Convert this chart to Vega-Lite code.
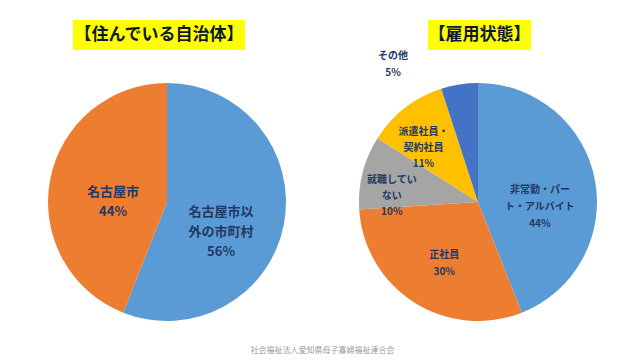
{
  "$schema": "https://vega.github.io/schema/vega-lite/v6.json",
  "background": "white",
  "padding": {"left": 48, "top": 20, "right": 0, "bottom": 0},
  "config": {
    "view": {"stroke": null},
    "font": "Noto Sans CJK JP",
    "text": {"font": "Noto Sans CJK JP"}
  },
  "title": {
    "text": "社会福祉法人愛知県母子寡婦福祉連合会",
    "orient": "bottom",
    "anchor": "middle",
    "fontSize": 8,
    "fontWeight": "normal",
    "color": "#9a9a9a",
    "font": "Noto Sans CJK JP",
    "offset": -7
  },
  "vconcat": [
    {
      "hconcat": [
        {
          "width": 25,
          "height": 30,
          "data": {"values": [{"t": ""}]},
          "mark": {"type": "text"},
          "encoding": {"text": {"field": "t", "type": "nominal"}}
        },
        {
          "hconcat": [
            {
              "width": 172,
              "height": 30,
              "view": {"fill": "#FFFF00", "stroke": null},
              "data": {"values": [{"title": "【住んでいる自治体】"}]},
              "mark": {"type": "text", "fontSize": 17, "fontWeight": "bold", "color": "#0f1a2e", "baseline": "middle", "align": "center"},
              "encoding": {"text": {"field": "title", "type": "nominal"}}
            },
            {
              "width": 103,
              "height": 30,
              "view": {"fill": "#FFFF00", "stroke": null},
              "data": {"values": [{"title": "【雇用状態】"}]},
              "mark": {"type": "text", "fontSize": 17, "fontWeight": "bold", "color": "#0f1a2e", "baseline": "middle", "align": "center"},
              "encoding": {"text": {"field": "title", "type": "nominal"}}
            }
          ],
          "spacing": 183
        }
      ],
      "spacing": 0
    },
    {
      "resolve": {"scale": {"color": "independent", "theta": "independent"}},
      "bounds": "flush",
      "hconcat": [
        {
          "width": 238,
          "height": 304,
          "data": {"values": [
            {"area": "名古屋市以外の市町村", "pct": 56, "seq": 1, "label": "名古屋市以\n外の市町村\n56%"},
            {"area": "名古屋市", "pct": 44, "seq": 2, "label": "名古屋市\n44%"}
          ]},
          "encoding": {
            "theta": {"field": "pct", "type": "quantitative", "stack": true},
            "order": {"field": "seq", "type": "quantitative"}
          },
          "layer": [
            {
              "mark": {"type": "arc", "radius": 119},
              "encoding": {
                "color": {
                  "field": "area",
                  "type": "nominal",
                  "scale": {"domain": ["名古屋市以外の市町村", "名古屋市"], "range": ["#5B9BD5", "#ED7D31"]},
                  "legend": null
                }
              }
            },
            {
              "mark": {"type": "text", "radius": 55, "fontSize": 13, "fontWeight": "bold", "color": "#1F3864", "lineBreak": "\n", "lineHeight": 20, "align": "center", "baseline": "middle"},
              "encoding": {"text": {"field": "label", "type": "nominal"}}
            }
          ]
        },
        {
          "width": 238,
          "height": 304,
          "data": {"values": [
            {"status": "非常勤・パート・アルバイト", "pct": 44, "seq": 1, "grp": "a", "label": "非常勤・パー\nト・アルバイト\n44%"},
            {"status": "正社員", "pct": 30, "seq": 2, "grp": "a", "label": "正社員\n30%"},
            {"status": "就職していない", "pct": 10, "seq": 3, "grp": "b", "label": "就職してい\nない\n10%"},
            {"status": "派遣社員・契約社員", "pct": 11, "seq": 4, "grp": "b", "label": "派遣社員・\n契約社員\n11%"},
            {"status": "その他", "pct": 5, "seq": 5, "grp": "c", "label": "その他\n5%"}
          ]},
          "encoding": {
            "theta": {"field": "pct", "type": "quantitative", "stack": true},
            "order": {"field": "seq", "type": "quantitative"}
          },
          "layer": [
            {
              "mark": {"type": "arc", "radius": 119},
              "encoding": {
                "color": {
                  "field": "status",
                  "type": "nominal",
                  "scale": {
                    "domain": ["非常勤・パート・アルバイト", "正社員", "就職していない", "派遣社員・契約社員", "その他"],
                    "range": ["#5B9BD5", "#ED7D31", "#A5A5A5", "#FFC000", "#4472C4"]
                  },
                  "legend": null
                }
              }
            },
            {
              "mark": {"type": "text", "radius": 63, "fontSize": 10, "fontWeight": "bold", "color": "#1F3864", "lineBreak": "\n", "lineHeight": 17, "align": "center", "baseline": "middle"},
              "encoding": {"text": {"condition": {"test": "datum.grp === 'a'", "field": "label"}, "value": ""}}
            },
            {
              "mark": {"type": "text", "radius": 89, "fontSize": 10, "fontWeight": "bold", "color": "#1F3864", "lineBreak": "\n", "lineHeight": 16, "align": "center", "baseline": "middle"},
              "encoding": {"text": {"condition": {"test": "datum.grp === 'b'", "field": "label"}, "value": ""}}
            },
            {
              "mark": {"type": "text", "radius": 140, "dx": -63, "dy": -8, "fontSize": 10, "fontWeight": "bold", "color": "#1F3864", "lineBreak": "\n", "lineHeight": 17, "align": "center", "baseline": "middle"},
              "encoding": {"text": {"condition": {"test": "datum.grp === 'c'", "field": "label"}, "value": ""}}
            }
          ]
        }
      ],
      "spacing": 73
    }
  ],
  "spacing": 0
}
